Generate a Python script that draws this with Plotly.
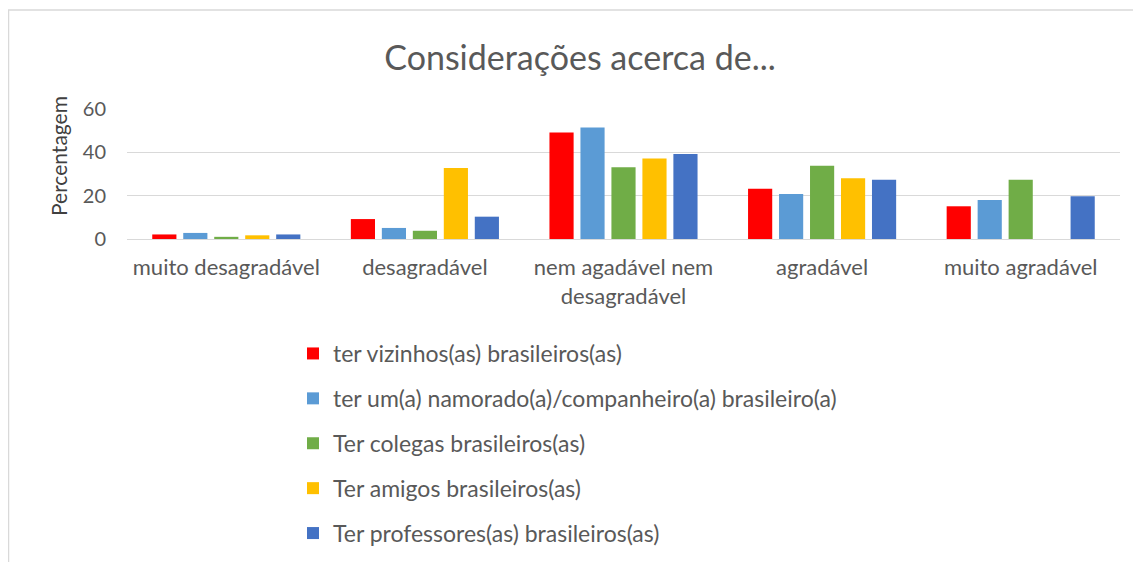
import plotly.graph_objects as go

categories = ["muito desagradável", "desagradável", "nem agadável nem<br>desagradável", "agradável", "muito agradável"]
series_names = [
    "ter vizinhos(as) brasileiros(as)",
    "ter um(a) namorado(a)/companheiro(a) brasileiro(a)",
    "Ter colegas brasileiros(as)",
    "Ter amigos brasileiros(as)",
    "Ter professores(as) brasileiros(as)",
]
vizinhos = [2.1, 9.2, 49.2, 23.2, 15.1]
namorado = [2.8, 5.1, 51.5, 20.8, 18.0]
colegas = [1.0, 3.8, 33.1, 33.8, 27.4]
amigos = [1.7, 32.8, 37.2, 28.0, 0]
professores = [2.1, 10.3, 39.2, 27.4, 19.7]
series_values = [vizinhos, namorado, colegas, amigos, professores]
colors = ["#FF0000", "#5B9BD5", "#70AD47", "#FFC000", "#4472C4"]
y_ticks = [0, 20, 40, 60]

FONT = "Lato, Open Sans, sans-serif"

fig = go.Figure()
for i, (name, vals, col) in enumerate(zip(series_names, series_values, colors)):
    fig.add_trace(go.Bar(x=categories, y=vals, name=name, marker_color=col,
                         marker_line_width=0, legendgroup=f"g{i}"))

# page body has an 8px margin; work in screen coords and convert
OFF = 8
W, H = 1141 - OFF, 562 - OFF
L, R, T, B = 127 - OFF, 1120 - OFF, 109 - OFF, 239 - OFF
pw, ph = R - L, B - T

def px2x(px):
    return (px - OFF - L) / pw

def py2y(py):
    return (B - (py - OFF)) / ph

fig.update_layout(
    width=W, height=H,
    margin=dict(l=L, r=W - R, t=T, b=H - B, autoexpand=False),
    paper_bgcolor="white", plot_bgcolor="white",
    font=dict(family=FONT, color="#595959", size=22),
    title=dict(text="Considerações acerca de...", x=(580 - OFF) / W, xanchor="center",
               y=1 - (58 - OFF) / H, yanchor="middle", yref="container",
               font=dict(size=34, color="#595959", family=FONT)),
    barmode="group", bargap=0.22, bargroupgap=0.22,
    showlegend=True,
    legend=dict(x=px2x(293), y=py2y(332), xanchor="left", yanchor="top",
                orientation="v", traceorder="grouped", tracegroupgap=12,
                font=dict(size=23, color="#595959", family=FONT),
                itemwidth=30, bgcolor="rgba(0,0,0,0)"),
    xaxis=dict(showgrid=False, showline=True, linecolor="#D9D9D9", linewidth=1,
               ticks="", tickfont=dict(size=22, color="#595959"), fixedrange=True,
               ticklabelstandoff=9),
    yaxis=dict(range=[0, 60], tickvals=y_ticks, showgrid=True, gridcolor="#D9D9D9",
               gridwidth=1, zeroline=False, showline=False, ticks="",
               tickfont=dict(size=20, color="#595959"), ticklabelstandoff=20),
    annotations=[
        dict(text="Percentagem", textangle=-90, xref="paper", yref="paper",
             x=px2x(58), y=py2y(156), xanchor="center", yanchor="middle",
             showarrow=False, font=dict(size=21, color="#404040", family=FONT)),
    ],
    shapes=[
        dict(type="line", xref="paper", yref="paper", x0=px2x(8), x1=px2x(1141),
             y0=py2y(10), y1=py2y(10), line=dict(color="#D9D9D9", width=1.5)),
        dict(type="line", xref="paper", yref="paper", x0=px2x(8.5), x1=px2x(8.5),
             y0=py2y(10), y1=py2y(562), line=dict(color="#D9D9D9", width=1.5)),
    ],
)

fig.write_html("out.html")
